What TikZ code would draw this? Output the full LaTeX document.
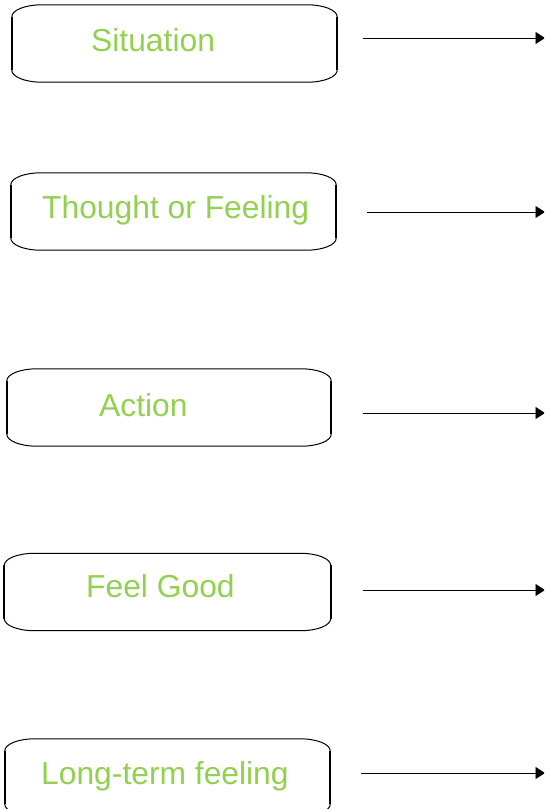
\documentclass[tikz,border=0pt]{standalone}
\usepackage{fontspec}
\setmainfont{Liberation Sans}
\usetikzlibrary{arrows.meta}
\definecolor{boxgreen}{HTML}{92D050}
\begin{document}
\begin{tikzpicture}[x=1pt,y=1pt,
  box/.style={rectangle, draw=none, inner sep=0pt, minimum width=325pt, minimum height=77pt},
  lbl/.style={anchor=base west, inner sep=0pt, text=boxgreen, font=\fontsize{31.8}{36}\selectfont},
  arr/.style={-{Triangle[length=9.5pt,width=12pt]}, line width=0.9pt},
  edgeline/.style={line width=1pt},
  sideline/.style={line width=1.8pt}]
\useasboundingbox (0,0) rectangle (544,-809);
\clip (0,0) rectangle (544,-809);

\node[box] (s) at (174.5,-43.5) {};
\node[box] (t) at (173.5,-211.5) {};
\node[box, minimum width=324pt] (a) at (169,-407.5) {};
\node[box, minimum width=326pt] (f) at (167.5,-592) {};
\node[box] (l) at (167.5,-777.5) {};

\foreach \n in {s,t,a,f,l}{
  \draw[edgeline] ([xshift=30pt]\n.north west) -- ([xshift=-30pt]\n.north east)
    arc[start angle=90,end angle=0,x radius=30pt,y radius=12pt]
    -- ([yshift=12pt]\n.south east)
    arc[start angle=0,end angle=-90,x radius=30pt,y radius=12pt]
    -- ([xshift=30pt]\n.south west)
    arc[start angle=270,end angle=180,x radius=30pt,y radius=12pt]
    -- ([yshift=-12pt]\n.north west)
    arc[start angle=180,end angle=90,x radius=30pt,y radius=12pt] -- cycle;
  \draw[sideline] ([yshift=-12pt]\n.north west) -- ([yshift=12pt]\n.south west);
  \draw[sideline] ([yshift=-12pt]\n.north east) -- ([yshift=12pt]\n.south east);
}

\node[lbl] (st) at (91,-51) {Situation};
\node[lbl] (tt) at (42,-218) {Thought or Feeling};
\node[lbl] (at) at (99,-416) {Action};
\node[lbl] (ft) at (86,-597) {Feel Good};
\node[lbl] (lt) at (41,-784) {Long-term feeling};

\coordinate (s1) at (363,-38);  \coordinate (s2) at (545,-38);
\coordinate (t1) at (367,-212); \coordinate (t2) at (545,-212);
\coordinate (a1) at (363,-413); \coordinate (a2) at (545,-413);
\coordinate (f1) at (363,-590); \coordinate (f2) at (545,-590);
\coordinate (l1) at (361,-773); \coordinate (l2) at (545,-773);
\draw[arr] (s1) -- (s2);
\draw[arr] (t1) -- (t2);
\draw[arr] (a1) -- (a2);
\draw[arr] (f1) -- (f2);
\draw[arr] (l1) -- (l2);
\end{tikzpicture}
\end{document}
